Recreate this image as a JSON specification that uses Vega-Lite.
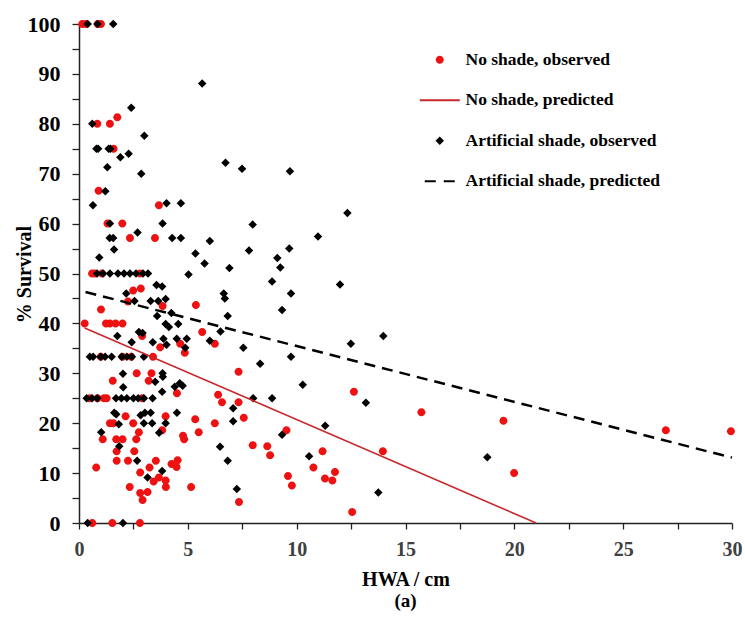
{
  "$schema": "https://vega.github.io/schema/vega-lite/v6.json",
  "width": 653,
  "height": 499,
  "autosize": "none",
  "padding": {"left": 79, "top": 24, "right": 13, "bottom": 107},
  "background": "white",
  "config": {"view": {"stroke": null}, "font": "Liberation Serif"},
  "title": {"text": "(a)", "orient": "bottom", "anchor": "middle", "offset": 3, "font": "Liberation Serif", "fontSize": 19, "fontWeight": "bold", "color": "#000000"},
  "datasets": {
    "obs": [
      {"series":"No shade, observed","hwa":0.15,"survival":100},{"series":"No shade, observed","hwa":0.3,"survival":100},{"series":"No shade, observed","hwa":0.86,"survival":100},{"series":"No shade, observed","hwa":1.01,"survival":100},
      {"series":"No shade, observed","hwa":0.84,"survival":80},{"series":"No shade, observed","hwa":1.42,"survival":80},{"series":"No shade, observed","hwa":1.76,"survival":81.3},{"series":"No shade, observed","hwa":1.59,"survival":75},{"series":"No shade, observed","hwa":0.9,"survival":66.6},
      {"series":"No shade, observed","hwa":3.67,"survival":63.7},{"series":"No shade, observed","hwa":1.31,"survival":60},{"series":"No shade, observed","hwa":1.99,"survival":60},{"series":"No shade, observed","hwa":2.34,"survival":57.1},{"series":"No shade, observed","hwa":3.49,"survival":57.1},
      {"series":"No shade, observed","hwa":0.6,"survival":50},{"series":"No shade, observed","hwa":0.73,"survival":50},{"series":"No shade, observed","hwa":1.06,"survival":50},{"series":"No shade, observed","hwa":2.8,"survival":50},
      {"series":"No shade, observed","hwa":2.49,"survival":46.6},{"series":"No shade, observed","hwa":2.84,"survival":47},{"series":"No shade, observed","hwa":2.25,"survival":44.4},{"series":"No shade, observed","hwa":3.84,"survival":43.5},{"series":"No shade, observed","hwa":1.01,"survival":42.8},{"series":"No shade, observed","hwa":5.37,"survival":43.7},
      {"series":"No shade, observed","hwa":0.26,"survival":40},{"series":"No shade, observed","hwa":1.24,"survival":40},{"series":"No shade, observed","hwa":1.42,"survival":40},{"series":"No shade, observed","hwa":1.68,"survival":40},{"series":"No shade, observed","hwa":2.0,"survival":40},
      {"series":"No shade, observed","hwa":2.9,"survival":37.5},{"series":"No shade, observed","hwa":3.73,"survival":35.2},{"series":"No shade, observed","hwa":4.65,"survival":35.9},{"series":"No shade, observed","hwa":4.86,"survival":34.1},{"series":"No shade, observed","hwa":5.66,"survival":38.3},{"series":"No shade, observed","hwa":6.24,"survival":35.9},{"series":"No shade, observed","hwa":7.33,"survival":30.3},
      {"series":"No shade, observed","hwa":1.0,"survival":33.3},{"series":"No shade, observed","hwa":2.0,"survival":33.3},{"series":"No shade, observed","hwa":2.4,"survival":33.3},{"series":"No shade, observed","hwa":3.4,"survival":33.3},
      {"series":"No shade, observed","hwa":2.65,"survival":30},{"series":"No shade, observed","hwa":3.33,"survival":30},{"series":"No shade, observed","hwa":3.2,"survival":28.5},{"series":"No shade, observed","hwa":1.55,"survival":28.5},{"series":"No shade, observed","hwa":4.5,"survival":26},
      {"series":"No shade, observed","hwa":0.5,"survival":25},{"series":"No shade, observed","hwa":0.85,"survival":25},{"series":"No shade, observed","hwa":1.15,"survival":25},{"series":"No shade, observed","hwa":1.27,"survival":25},{"series":"No shade, observed","hwa":2.9,"survival":25},
      {"series":"No shade, observed","hwa":1.42,"survival":20},{"series":"No shade, observed","hwa":1.58,"survival":20},{"series":"No shade, observed","hwa":2.14,"survival":21.4},{"series":"No shade, observed","hwa":1.09,"survival":16.8},{"series":"No shade, observed","hwa":1.71,"survival":16.8},{"series":"No shade, observed","hwa":2.0,"survival":16.8},{"series":"No shade, observed","hwa":1.73,"survival":14.4},{"series":"No shade, observed","hwa":1.73,"survival":12.5},{"series":"No shade, observed","hwa":2.25,"survival":12.5},{"series":"No shade, observed","hwa":2.54,"survival":14.4},{"series":"No shade, observed","hwa":2.63,"survival":16.8},{"series":"No shade, observed","hwa":2.49,"survival":20},{"series":"No shade, observed","hwa":2.75,"survival":18.2},{"series":"No shade, observed","hwa":0.79,"survival":11.1},{"series":"No shade, observed","hwa":2.81,"survival":10.1},{"series":"No shade, observed","hwa":3.24,"survival":11.1},{"series":"No shade, observed","hwa":3.43,"survival":8.3},{"series":"No shade, observed","hwa":3.53,"survival":12.5},{"series":"No shade, observed","hwa":3.67,"survival":9.1},{"series":"No shade, observed","hwa":3.98,"survival":8.5},{"series":"No shade, observed","hwa":3.99,"survival":7.2},{"series":"No shade, observed","hwa":2.33,"survival":7.2},{"series":"No shade, observed","hwa":2.81,"survival":6.0},{"series":"No shade, observed","hwa":2.92,"survival":4.6},{"series":"No shade, observed","hwa":3.15,"survival":6.2},{"series":"No shade, observed","hwa":4.25,"survival":11.8},{"series":"No shade, observed","hwa":4.48,"survival":11.2},{"series":"No shade, observed","hwa":4.53,"survival":12.6},{"series":"No shade, observed","hwa":3.82,"survival":18.6},{"series":"No shade, observed","hwa":3.98,"survival":21.4},{"series":"No shade, observed","hwa":4.78,"survival":17.5},{"series":"No shade, observed","hwa":4.83,"survival":16.8},{"series":"No shade, observed","hwa":5.34,"survival":20.8},{"series":"No shade, observed","hwa":5.5,"survival":18.2},{"series":"No shade, observed","hwa":5.15,"survival":7.2},{"series":"No shade, observed","hwa":6.39,"survival":25.7},{"series":"No shade, observed","hwa":6.57,"survival":24.2},{"series":"No shade, observed","hwa":6.24,"survival":20},{"series":"No shade, observed","hwa":7.35,"survival":4.2},{"series":"No shade, observed","hwa":7.33,"survival":24.2},{"series":"No shade, observed","hwa":7.57,"survival":21.1},
      {"series":"No shade, observed","hwa":0.61,"survival":0},{"series":"No shade, observed","hwa":1.53,"survival":0},{"series":"No shade, observed","hwa":2.8,"survival":0},
      {"series":"No shade, observed","hwa":12.63,"survival":26.3},{"series":"No shade, observed","hwa":15.73,"survival":22.2},{"series":"No shade, observed","hwa":9.53,"survival":18.6},{"series":"No shade, observed","hwa":7.98,"survival":15.6},{"series":"No shade, observed","hwa":8.65,"survival":15.4},{"series":"No shade, observed","hwa":8.78,"survival":13.6},{"series":"No shade, observed","hwa":11.19,"survival":14.4},{"series":"No shade, observed","hwa":13.96,"survival":14.4},{"series":"No shade, observed","hwa":10.77,"survival":11.1},{"series":"No shade, observed","hwa":9.6,"survival":9.4},{"series":"No shade, observed","hwa":9.78,"survival":7.5},{"series":"No shade, observed","hwa":11.3,"survival":8.9},{"series":"No shade, observed","hwa":11.64,"survival":8.5},{"series":"No shade, observed","hwa":11.76,"survival":10.2},{"series":"No shade, observed","hwa":12.55,"survival":2.2},
      {"series":"No shade, observed","hwa":19.5,"survival":20.5},{"series":"No shade, observed","hwa":19.99,"survival":10},{"series":"No shade, observed","hwa":26.96,"survival":18.6},{"series":"No shade, observed","hwa":29.95,"survival":18.4},
      {"series":"Artificial shade, observed","hwa":0.4,"survival":100},{"series":"Artificial shade, observed","hwa":0.85,"survival":100},{"series":"Artificial shade, observed","hwa":1.57,"survival":100},
      {"series":"Artificial shade, observed","hwa":0.61,"survival":80},{"series":"Artificial shade, observed","hwa":0.8,"survival":75},{"series":"Artificial shade, observed","hwa":0.88,"survival":75},{"series":"Artificial shade, observed","hwa":1.36,"survival":75},{"series":"Artificial shade, observed","hwa":1.44,"survival":75},{"series":"Artificial shade, observed","hwa":1.3,"survival":71.3},{"series":"Artificial shade, observed","hwa":1.9,"survival":73.3},{"series":"Artificial shade, observed","hwa":2.28,"survival":74},{"series":"Artificial shade, observed","hwa":2.4,"survival":83.2},{"series":"Artificial shade, observed","hwa":3.0,"survival":77.6},{"series":"Artificial shade, observed","hwa":2.86,"survival":70},{"series":"Artificial shade, observed","hwa":5.66,"survival":88.1},{"series":"Artificial shade, observed","hwa":6.73,"survival":72.2},{"series":"Artificial shade, observed","hwa":7.49,"survival":71},{"series":"Artificial shade, observed","hwa":9.69,"survival":70.5},{"series":"Artificial shade, observed","hwa":1.21,"survival":66.5},
      {"series":"Artificial shade, observed","hwa":0.64,"survival":63.7},{"series":"Artificial shade, observed","hwa":4.02,"survival":64.1},{"series":"Artificial shade, observed","hwa":4.68,"survival":64.1},{"series":"Artificial shade, observed","hwa":1.42,"survival":60},{"series":"Artificial shade, observed","hwa":3.84,"survival":60},{"series":"Artificial shade, observed","hwa":1.41,"survival":57.1},{"series":"Artificial shade, observed","hwa":1.57,"survival":57.1},{"series":"Artificial shade, observed","hwa":2.69,"survival":58.2},{"series":"Artificial shade, observed","hwa":4.28,"survival":57.1},{"series":"Artificial shade, observed","hwa":4.68,"survival":57.1},{"series":"Artificial shade, observed","hwa":1.61,"survival":54.8},{"series":"Artificial shade, observed","hwa":0.93,"survival":53.2},{"series":"Artificial shade, observed","hwa":5.35,"survival":54},{"series":"Artificial shade, observed","hwa":6.01,"survival":56.5},{"series":"Artificial shade, observed","hwa":5.77,"survival":52},{"series":"Artificial shade, observed","hwa":5.03,"survival":49.8},{"series":"Artificial shade, observed","hwa":6.91,"survival":51.1},{"series":"Artificial shade, observed","hwa":7.81,"survival":54.6},
      {"series":"Artificial shade, observed","hwa":0.83,"survival":50},{"series":"Artificial shade, observed","hwa":1.1,"survival":50},{"series":"Artificial shade, observed","hwa":1.42,"survival":50},{"series":"Artificial shade, observed","hwa":1.79,"survival":50},{"series":"Artificial shade, observed","hwa":2.07,"survival":50},{"series":"Artificial shade, observed","hwa":2.34,"survival":50},{"series":"Artificial shade, observed","hwa":2.62,"survival":50},{"series":"Artificial shade, observed","hwa":2.94,"survival":50},{"series":"Artificial shade, observed","hwa":3.17,"survival":50},
      {"series":"Artificial shade, observed","hwa":2.17,"survival":46},{"series":"Artificial shade, observed","hwa":2.55,"survival":44.5},{"series":"Artificial shade, observed","hwa":3.56,"survival":47.7},{"series":"Artificial shade, observed","hwa":3.82,"survival":47.4},{"series":"Artificial shade, observed","hwa":3.98,"survival":44.9},{"series":"Artificial shade, observed","hwa":3.29,"survival":44.5},{"series":"Artificial shade, observed","hwa":3.64,"survival":44.5},{"series":"Artificial shade, observed","hwa":3.59,"survival":41.5},{"series":"Artificial shade, observed","hwa":4.24,"survival":42.1},{"series":"Artificial shade, observed","hwa":3.98,"survival":39.9},{"series":"Artificial shade, observed","hwa":4.13,"survival":39.3},{"series":"Artificial shade, observed","hwa":4.56,"survival":39.9},{"series":"Artificial shade, observed","hwa":6.83,"survival":41.5},{"series":"Artificial shade, observed","hwa":6.65,"survival":46},{"series":"Artificial shade, observed","hwa":6.7,"survival":45},
      {"series":"Artificial shade, observed","hwa":1.76,"survival":37.5},{"series":"Artificial shade, observed","hwa":2.42,"survival":36.2},{"series":"Artificial shade, observed","hwa":2.75,"survival":38.3},{"series":"Artificial shade, observed","hwa":2.92,"survival":38.1},{"series":"Artificial shade, observed","hwa":3.39,"survival":36.2},{"series":"Artificial shade, observed","hwa":3.88,"survival":36.9},{"series":"Artificial shade, observed","hwa":4.02,"survival":35.7},{"series":"Artificial shade, observed","hwa":4.49,"survival":36.9},{"series":"Artificial shade, observed","hwa":4.88,"survival":35.1},{"series":"Artificial shade, observed","hwa":4.95,"survival":36.9},{"series":"Artificial shade, observed","hwa":6.01,"survival":36.5},{"series":"Artificial shade, observed","hwa":6.5,"survival":38.4},{"series":"Artificial shade, observed","hwa":7.55,"survival":35.1},
      {"series":"Artificial shade, observed","hwa":0.5,"survival":33.3},{"series":"Artificial shade, observed","hwa":0.65,"survival":33.3},{"series":"Artificial shade, observed","hwa":1.0,"survival":33.3},{"series":"Artificial shade, observed","hwa":1.2,"survival":33.3},{"series":"Artificial shade, observed","hwa":1.5,"survival":33.3},{"series":"Artificial shade, observed","hwa":1.96,"survival":33.3},{"series":"Artificial shade, observed","hwa":2.2,"survival":33.3},{"series":"Artificial shade, observed","hwa":2.43,"survival":33.3},{"series":"Artificial shade, observed","hwa":2.98,"survival":33.3},
      {"series":"Artificial shade, observed","hwa":2.02,"survival":29.9},{"series":"Artificial shade, observed","hwa":3.5,"survival":28.3},{"series":"Artificial shade, observed","hwa":3.84,"survival":30},{"series":"Artificial shade, observed","hwa":3.85,"survival":29.3},{"series":"Artificial shade, observed","hwa":4.4,"survival":27.3},{"series":"Artificial shade, observed","hwa":4.63,"survival":28},{"series":"Artificial shade, observed","hwa":4.76,"survival":27.5},{"series":"Artificial shade, observed","hwa":3.82,"survival":26.3},{"series":"Artificial shade, observed","hwa":2.03,"survival":27.2},
      {"series":"Artificial shade, observed","hwa":0.35,"survival":25},{"series":"Artificial shade, observed","hwa":0.6,"survival":25},{"series":"Artificial shade, observed","hwa":0.84,"survival":25},{"series":"Artificial shade, observed","hwa":1.7,"survival":25},{"series":"Artificial shade, observed","hwa":1.95,"survival":25},{"series":"Artificial shade, observed","hwa":2.2,"survival":25},{"series":"Artificial shade, observed","hwa":2.5,"survival":25},{"series":"Artificial shade, observed","hwa":2.72,"survival":25},{"series":"Artificial shade, observed","hwa":2.98,"survival":25},{"series":"Artificial shade, observed","hwa":3.38,"survival":25},
      {"series":"Artificial shade, observed","hwa":1.62,"survival":22.1},{"series":"Artificial shade, observed","hwa":1.71,"survival":21.8},{"series":"Artificial shade, observed","hwa":1.83,"survival":19.8},{"series":"Artificial shade, observed","hwa":1.02,"survival":18.2},{"series":"Artificial shade, observed","hwa":1.85,"survival":15.4},{"series":"Artificial shade, observed","hwa":2.67,"survival":12.5},{"series":"Artificial shade, observed","hwa":2.83,"survival":21.6},{"series":"Artificial shade, observed","hwa":3.03,"survival":22.1},{"series":"Artificial shade, observed","hwa":3.29,"survival":22.1},{"series":"Artificial shade, observed","hwa":2.98,"survival":20},{"series":"Artificial shade, observed","hwa":3.36,"survival":20},{"series":"Artificial shade, observed","hwa":3.15,"survival":9.1},{"series":"Artificial shade, observed","hwa":3.82,"survival":10.4},{"series":"Artificial shade, observed","hwa":3.68,"survival":18.1},{"series":"Artificial shade, observed","hwa":3.98,"survival":20},{"series":"Artificial shade, observed","hwa":4.5,"survival":22.1},{"series":"Artificial shade, observed","hwa":6.48,"survival":15.3},{"series":"Artificial shade, observed","hwa":6.83,"survival":12.5},{"series":"Artificial shade, observed","hwa":7.25,"survival":6.8},{"series":"Artificial shade, observed","hwa":7.08,"survival":23},{"series":"Artificial shade, observed","hwa":7.08,"survival":20.4},
      {"series":"Artificial shade, observed","hwa":0.4,"survival":0},{"series":"Artificial shade, observed","hwa":2.02,"survival":0},
      {"series":"Artificial shade, observed","hwa":10.28,"survival":27.7},{"series":"Artificial shade, observed","hwa":8.0,"survival":25},{"series":"Artificial shade, observed","hwa":8.87,"survival":25},{"series":"Artificial shade, observed","hwa":13.18,"survival":24.1},{"series":"Artificial shade, observed","hwa":11.31,"survival":19.5},{"series":"Artificial shade, observed","hwa":9.33,"survival":17.7},{"series":"Artificial shade, observed","hwa":10.57,"survival":13.4},{"series":"Artificial shade, observed","hwa":13.75,"survival":6.1},
      {"series":"Artificial shade, observed","hwa":7.98,"survival":59.8},{"series":"Artificial shade, observed","hwa":12.33,"survival":62.1},{"series":"Artificial shade, observed","hwa":10.98,"survival":57.4},{"series":"Artificial shade, observed","hwa":9.66,"survival":55},{"series":"Artificial shade, observed","hwa":9.11,"survival":53.1},{"series":"Artificial shade, observed","hwa":9.25,"survival":51.2},{"series":"Artificial shade, observed","hwa":8.87,"survival":48.4},{"series":"Artificial shade, observed","hwa":11.99,"survival":47.8},{"series":"Artificial shade, observed","hwa":9.74,"survival":46},{"series":"Artificial shade, observed","hwa":9.33,"survival":42.7},{"series":"Artificial shade, observed","hwa":13.98,"survival":37.5},{"series":"Artificial shade, observed","hwa":12.49,"survival":35.9},{"series":"Artificial shade, observed","hwa":9.74,"survival":33.3},{"series":"Artificial shade, observed","hwa":8.32,"survival":31.9},
      {"series":"Artificial shade, observed","hwa":18.76,"survival":13.2}
    ],
    "pred": [
      {"series":"No shade, predicted","hwa":0.26,"survival":39.1},
      {"series":"No shade, predicted","hwa":21.0,"survival":0},
      {"series":"Artificial shade, predicted","hwa":0.3,"survival":46.3},
      {"series":"Artificial shade, predicted","hwa":30,"survival":13.1}
    ]
  },
  "encoding": {
    "x": {"field": "hwa", "type": "quantitative",
      "scale": {"domain": [0, 30], "nice": false, "zero": false},
      "axis": {"title": "HWA / cm", "grid": false,
        "values": [0,2.5,5,7.5,10,12.5,15,17.5,20,22.5,25,27.5,30],
        "labelExpr": "datum.value % 5 == 0 ? datum.label : ''",
        "tickSize": 6, "tickColor": "#222222", "tickWidth": 1.3,
        "domainColor": "#222222", "domainWidth": 1.5,
        "labelFont": "Liberation Serif", "labelFontWeight": "bold", "labelFontSize": 20, "labelColor": "#404040", "labelPadding": 10, "labelFlush": false,
        "titleFont": "Liberation Serif", "titleFontWeight": "bold", "titleFontSize": 20, "titleColor": "#000000",
        "titleY": 62, "titleBaseline": "alphabetic"}},
    "y": {"field": "survival", "type": "quantitative",
      "scale": {"domain": [0, 100], "nice": false},
      "axis": {"title": "% Survival", "grid": false,
        "values": [0,5,10,15,20,25,30,35,40,45,50,55,60,65,70,75,80,85,90,95,100],
        "labelExpr": "datum.value % 10 == 0 ? datum.label : ''",
        "tickSize": 7, "tickColor": "#222222", "tickWidth": 1.3,
        "domainColor": "#222222", "domainWidth": 1.5,
        "labelFont": "Liberation Serif", "labelFontWeight": "bold", "labelFontSize": 22, "labelColor": "#000000", "labelPadding": 12, "labelFlush": false,
        "titleFont": "Liberation Serif", "titleFontWeight": "bold", "titleFontSize": 20, "titleColor": "#000000",
        "titleX": -55, "titleY": 250, "titleBaseline": "middle"}}
  },
  "layer": [
    {
      "data": {"name": "obs"},
      "mark": {"type": "point", "filled": true, "size": 100, "opacity": 1},
      "encoding": {
        "fill": {"field": "series", "type": "nominal",
          "scale": {"domain": ["No shade, observed","No shade, predicted","Artificial shade, observed","Artificial shade, predicted"],
                    "range": ["#ee1111","#c8282c","#000000","#000000"]},
          "legend": {"title": null, "orient": "none", "legendX": 352, "legendY": 27, "direction": "vertical",
            "labelFont": "Liberation Serif", "labelFontWeight": "bold", "labelFontSize": 17.5, "labelColor": "#000000", "labelLimit": 400,
            "symbolSize": 100, "symbolStrokeWidth": 2, "rowPadding": 21.5, "labelOffset": 17, "padding": 0, "symbolOpacity": 1}},
        "stroke": {"field": "series", "type": "nominal",
          "scale": {"domain": ["No shade, observed","No shade, predicted","Artificial shade, observed","Artificial shade, predicted"],
                    "range": ["transparent","#c8282c","transparent","#000000"]}},
        "shape": {"field": "series", "type": "nominal",
          "scale": {"domain": ["No shade, observed","No shade, predicted","Artificial shade, observed","Artificial shade, predicted"],
                    "range": ["M-0.8,0A0.8,0.8,0,1,0,0.8,0A0.8,0.8,0,1,0,-0.8,0Z","M-4,0H4","M0,-0.85L0.85,0L0,0.85L-0.85,0Z","M-3,0H3"]}},
        "strokeDash": {"field": "series", "type": "nominal",
          "scale": {"domain": ["No shade, observed","No shade, predicted","Artificial shade, observed","Artificial shade, predicted"],
                    "range": [[1,0],[1,0],[1,0],[11,8]]}}
      }
    },
    {
      "data": {"name": "pred"},
      "transform": [{"filter": "datum.series == 'No shade, predicted'"}],
      "mark": {"type": "line", "color": "#c8282c", "strokeWidth": 1.6},
      "encoding": {}
    },
    {
      "data": {"name": "pred"},
      "transform": [{"filter": "datum.series == 'Artificial shade, predicted'"}],
      "mark": {"type": "line", "color": "#000000", "strokeWidth": 2.5, "strokeDash": [11, 7]},
      "encoding": {}
    }
  ]
}
